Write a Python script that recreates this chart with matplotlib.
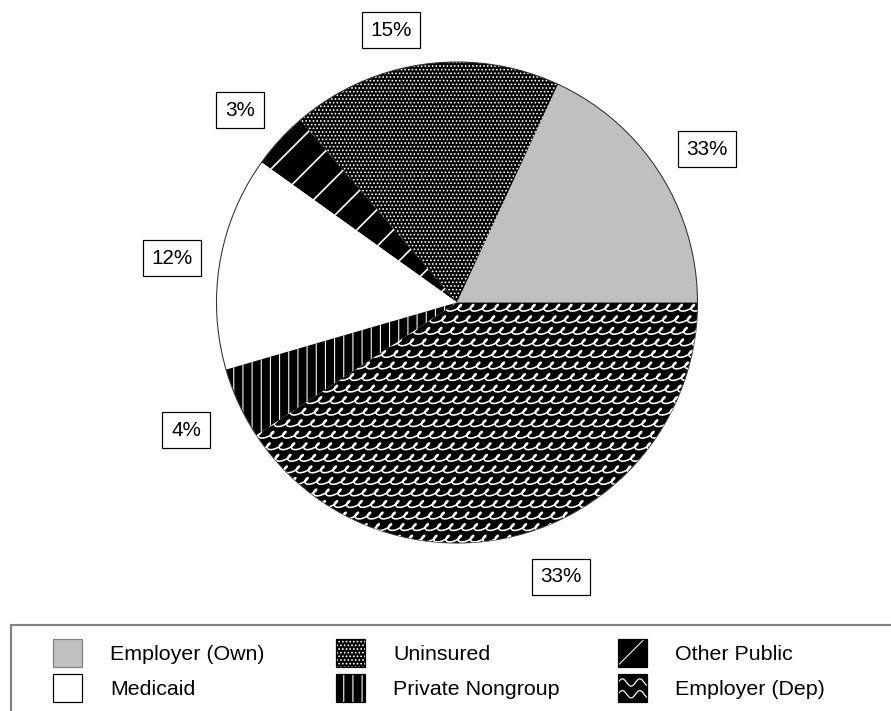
import numpy as np
import matplotlib
matplotlib.use("Agg")
import matplotlib.pyplot as plt
from matplotlib.patches import Rectangle, Circle
from matplotlib.lines import Line2D
from matplotlib.legend_handler import HandlerBase

plt.rcParams["font.family"] = ["Liberation Sans", "DejaVu Sans"]
plt.rcParams["hatch.color"] = "white"
plt.rcParams["hatch.linewidth"] = 0.7

# slices, counter-clockwise from 3 o'clock
groups = ["Employer (Own)", "Uninsured", "Other Public", "Medicaid",
          "Private Nongroup", "Employer (Dep)"]
shares = [18.1, 18.2, 3.8, 14.4, 4.8, 40.7]          # slice sizes as drawn
pct_labels = ["33%", "15%", "3%", "12%", "4%", "33%"]  # printed labels
legend_order = ["Employer (Own)", "Medicaid", "Uninsured",
                "Private Nongroup", "Other Public", "Employer (Dep)"]

fills = ["#c0c0c0", "black", "black", "white", "black", "black"]
hatches = [None, ".....", "/", None, "||", None]
swatch_edges = ["#808080", "black", "black", "black", "black", "black"]

W, H, DPI = 891, 711, 110
cx, cy, r = 457, 302.5, 240.5   # pie centre / radius in px
# where the label boxes sit (px), same order as groups
label_px = [(707, 149), (391, 30), (240, 110), (172, 258), (186, 430), (561, 577)]

fig = plt.figure(figsize=(W / DPI, H / DPI), dpi=DPI)
ax = fig.add_axes([0, 0, 1, 1])

lab_iter = iter(pct_labels)
wedges, _, texts = ax.pie(
    shares, colors=fills, hatch=hatches, startangle=0, counterclock=True,
    autopct=lambda p: next(lab_iter), pctdistance=1.21,
    textprops=dict(fontsize=13.5, bbox=dict(boxstyle="square,pad=0.42",
                                            fc="white", ec="black", lw=0.8)))
for t, (px, py) in zip(texts, label_px):
    t.set_position(((px - cx) / r, (cy - py) / r))

# thicker white stripes on Other Public
if hasattr(wedges[2], "set_hatch_linewidth"):
    wedges[2].set_hatch_linewidth(1.1)

ax.set_xlim((0 - cx) / r, (W - cx) / r)
ax.set_ylim((cy - H) / r, cy / r)
ax.set_aspect("auto")
ax.axis("off")

# wave texture for Employer (Dep)
dep = wedges[5]
step, period, k = 0.048, 0.051, 1.7
c = period / (2 * np.pi)
tt = np.linspace(0, 2.2 / c, 4000)
for j, y0 in enumerate(np.arange(-1.03, 0.04, step)):
    yy = y0 + c * k * np.cos(tt)
    xx = -1.08 + c * (tt - k * np.sin(tt)) + 0.8 * (yy - y0) + 0.3 * period * j
    ax.plot(xx, yy, color="white", lw=1.05, clip_path=dep)

ax.add_patch(Circle((0, 0), 1, fill=False, ec="#333333", lw=0.7))


class Swatch(HandlerBase):
    def __init__(self, face, hatch=None, edge="black", waves=False):
        super().__init__()
        self.face, self.hatch, self.edge, self.waves = face, hatch, edge, waves

    def create_artists(self, legend, orig_handle, xdescent, ydescent,
                       width, height, fontsize, trans):
        x0, y0 = -xdescent, -ydescent
        arts = [Rectangle((x0, y0), width, height, facecolor=self.face,
                          hatch=self.hatch, lw=0, transform=trans)]
        if self.waves:
            xs = np.linspace(x0, x0 + width, 60)
            for f in (0.28, 0.7):
                ys = y0 + height * f + 0.13 * height * np.sin(2 * np.pi * (xs - x0) / (0.6 * width))
                arts.append(Line2D(xs, ys, color="white", lw=0.8, transform=trans))
        arts.append(Rectangle((x0, y0), width, height, fill=False,
                              edgecolor=self.edge, lw=0.8, transform=trans))
        return arts


by_name = {g: i for i, g in enumerate(groups)}
cols_x = [53, 336, 618]
top_y = 639
for ci, x in enumerate(cols_x):
    names = legend_order[2 * ci:2 * ci + 2]
    hs = [wedges[by_name[n]] for n in names]
    hmap = {}
    for n, h in zip(names, hs):
        i = by_name[n]
        hmap[h] = Swatch(fills[i], hatches[i], swatch_edges[i], waves=(n == "Employer (Dep)"))
    fig.legend(hs, names, loc="upper left", bbox_to_anchor=(x / W, 1 - top_y / H),
               bbox_transform=fig.transFigure, frameon=False, fontsize=14,
               handlelength=1.36, handleheight=1.64, handletextpad=1.31,
               labelspacing=0.33, borderpad=0, borderaxespad=0, handler_map=hmap)

# legend frame, runs off the right and bottom edges
fig.add_artist(Rectangle((11 / W, -0.2), 1.0, 0.2 + 1 - 625 / H,
                         transform=fig.transFigure, fill=False, ec="#808080", lw=1.4))

fig.savefig("out.png", dpi=DPI)
